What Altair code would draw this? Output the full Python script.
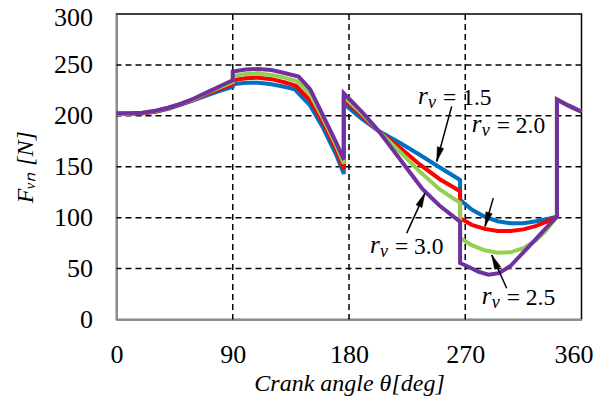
import math
import altair as alt
import pandas as pd

# ---- data ----
x_blue = [0, 10, 20, 30, 40, 50, 60, 70, 80, 90, 90, 100, 110, 120, 130, 138, 150, 160, 170, 176, 176,
          190, 203, 220, 235, 250, 266, 266, 275, 285, 295, 305, 315, 325, 333, 341, 341, 350, 360]
y_blue = [202, 202, 202.5, 204, 207, 211, 215.5, 220, 224.5, 228.5, 231, 232.5, 232.5, 231, 228.5, 226, 210, 188, 162, 143, 212,
          197, 185, 173, 161.5, 149.5, 137, 117.5, 108, 101, 96.5, 94.5, 94.5, 96.5, 98.5, 101, 216, 210, 204]

x_red = [0, 10, 20, 30, 40, 50, 60, 70, 80, 90, 90, 100, 110, 120, 130, 139, 150, 160, 170, 176, 176,
         190, 203, 220, 235, 250, 266, 266, 275, 285, 295, 305, 315, 325, 333, 341, 341, 350, 360]
y_red = [202, 202, 202.5, 204, 207.5, 211.5, 216, 221.5, 226.5, 231, 235, 237, 237.5, 236, 233, 229.5, 215, 193, 167, 148, 216,
         200, 185, 168, 152, 138, 126, 99.5, 93, 89, 87, 87, 88.5, 92, 96, 101, 216, 210, 204]

x_green = [0, 10, 20, 30, 40, 50, 60, 70, 80, 90, 90, 100, 110, 120, 130, 140, 150, 160, 170, 176, 176,
           190, 203, 220, 235, 250, 266, 266, 275, 285, 295, 305, 315, 325, 333, 341, 341, 350, 360]
y_green = [202, 202, 203, 204.5, 208, 212, 216.5, 222.5, 228, 233, 239, 241, 241.5, 240, 237.5, 234, 221, 197, 171, 153, 219,
           202, 185, 164, 145, 128, 114.5, 80, 73, 68, 65.5, 66, 70, 78, 88, 101, 216, 210, 204]

x_purple = [0, 10, 20, 30, 40, 50, 60, 70, 80, 90, 90, 100, 110, 120, 130, 141, 150, 160, 165, 170, 176, 176,
            190, 203, 215, 225, 237, 250, 266, 266, 272, 280, 288, 296, 305, 315, 325, 333, 341, 341, 350, 360]
y_purple = [202.5, 202.5, 203, 205, 208, 212, 217, 223, 229, 235, 243.5, 245.5, 246, 245, 242, 238.5, 226, 200, 187, 174, 157, 222,
            204, 185, 165, 148, 128, 112, 96, 55.5, 52, 47, 44, 45.5, 52.5, 66, 79.5, 90.5, 101, 216, 210, 204]

series_names = ["rv=1.5", "rv=2.0", "rv=2.5", "rv=3.0"]
series_colors = ["#0070C0", "#FF0000", "#92D050", "#7030A0"]

x_ticks = [0, 90, 180, 270, 360]
y_ticks = [0, 50, 100, 150, 200, 250, 300]
grid_x = [90, 180, 270]
grid_y = [50, 100, 150, 200, 250]

# annotations: "= value" text anchor and arrow tail/tip (data units)
label_text = ["= 1.5", "= 2.0", "= 3.0", "= 2.5"]
label_x = [252.8, 294.3, 215.6, 302.1]
label_y = [217.9, 189.6, 71.6, 20.9]
arrow_x1 = [259.5, 291.7, 224.7, 302.1]
arrow_y1 = [209.3, 119.2, 84.8, 30.7]
arrow_x2 = [247.9, 285.3, 238.8, 290.5]
arrow_y2 = [155.2, 91.3, 124.1, 63.4]

W, H = 465, 305.5
FONT = "Liberation Serif"

rows = []
for name, xs, ys in zip(series_names, [x_blue, x_red, x_green, x_purple],
                        [y_blue, y_red, y_green, y_purple]):
    for i, (a, b) in enumerate(zip(xs, ys)):
        rows.append({"series": name, "theta": a, "F": b, "i": i})
df = pd.DataFrame(rows)

xscale = alt.Scale(domain=[0, 360], nice=False, zero=False)
yscale = alt.Scale(domain=[0, 300], nice=False, zero=False)

gx = alt.Chart(pd.DataFrame({"g": grid_x})).mark_rule(
    color="black", strokeWidth=1.5, strokeDash=[6, 4]
).encode(x=alt.X("g:Q", scale=xscale))
gy = alt.Chart(pd.DataFrame({"g": grid_y})).mark_rule(
    color="black", strokeWidth=1.5, strokeDash=[6, 4]
).encode(y=alt.Y("g:Q", scale=yscale))

lines = alt.Chart(df).mark_line(strokeWidth=4, strokeJoin="miter").encode(
    x=alt.X("theta:Q", scale=xscale,
            axis=alt.Axis(values=x_ticks, grid=False, ticks=False, domainColor="#8c8c8c",
                          domainWidth=2, labelFont=FONT, labelFontSize=26, labelColor="black",
                          labelPadding=22, labelFlush=False, labelOverlap=False, labelBound=False,
                          labelOffset={"condition": {"test": "datum.value == 360", "value": -8}, "value": 0},
                          title="Crank angle θ[deg]", titleFont=FONT, titleFontSize=24,
                          titleFontStyle="italic", titleFontWeight="normal", titleColor="black",
                          titlePadding=4)),
    y=alt.Y("F:Q", scale=yscale,
            axis=alt.Axis(values=y_ticks, grid=False, ticks=False, domainColor="#8c8c8c",
                          domainWidth=2, labelFont=FONT, labelFontSize=26, labelColor="black",
                          labelPadding=24, labelFlush=False, labelOverlap=False,
                          labelOffset={"condition": {"test": "datum.value == 300", "value": 3}, "value": 0},
                          title="Fᵥₙ [N]", titleFont=FONT, titleFontSize=24,
                          titleFontStyle="italic", titleFontWeight="normal", titleColor="black",
                          titlePadding=16)),
    color=alt.Color("series:N", scale=alt.Scale(domain=series_names, range=series_colors),
                    legend=None),
    order=alt.Order("i:Q"),
)

# draw series in order blue, red, green, purple
layers = [gx, gy]
for name in series_names:
    layers.append(lines.transform_filter(alt.datum.series == name))

# annotations
px_x = W / 360.0
px_y = H / 300.0
angles = []
for a1, b1, a2, b2 in zip(arrow_x1, arrow_y1, arrow_x2, arrow_y2):
    sx = (a2 - a1) * px_x
    sy = -(b2 - b1) * px_y
    angles.append(math.degrees(math.atan2(sx, -sy)) % 360)

adf = pd.DataFrame({"x1": arrow_x1, "y1": arrow_y1, "x2": arrow_x2, "y2": arrow_y2, "ang": angles})
shaft = alt.Chart(adf).mark_rule(color="black", strokeWidth=1.5).encode(
    x=alt.X("x1:Q", scale=xscale), y=alt.Y("y1:Q", scale=yscale), x2="x2:Q", y2="y2:Q")
head = alt.Chart(adf).mark_point(
    shape="M0,0L-0.5,2.2L0.5,2.2Z", filled=True, fill="black", stroke="black",
    fillOpacity=1, strokeWidth=0.5, size=170
).encode(x=alt.X("x2:Q", scale=xscale), y=alt.Y("y2:Q", scale=yscale),
         angle=alt.Angle("ang:Q", scale=None))

ldf = pd.DataFrame({"lx": label_x, "ly": label_y, "t": label_text})
base_t = alt.Chart(ldf).encode(x=alt.X("lx:Q", scale=xscale), y=alt.Y("ly:Q", scale=yscale))
t_eq = base_t.mark_text(font=FONT, fontSize=23.5, align="left", baseline="middle", color="black").encode(text="t:N")
t_r = base_t.mark_text(font=FONT, fontSize=25, fontStyle="italic", align="left", baseline="middle",
                       color="black", dx=-25, dy=-2, text="r")
t_v = base_t.mark_text(font=FONT, fontSize=18, fontStyle="italic", align="left", baseline="middle",
                       color="black", dx=-15, dy=5, text="v")

layers += [shaft, head, t_r, t_v, t_eq]

chart = alt.layer(*layers).properties(
    width=W, height=H,
    autosize=alt.AutoSizeParams(type="none"),
    padding={"left": 108.5, "top": 6, "right": 18, "bottom": 80},
    background="white",
).configure_view(stroke="black", strokeWidth=1.5)

chart.save("out.html", embed_options={"renderer": "svg", "actions": False})
